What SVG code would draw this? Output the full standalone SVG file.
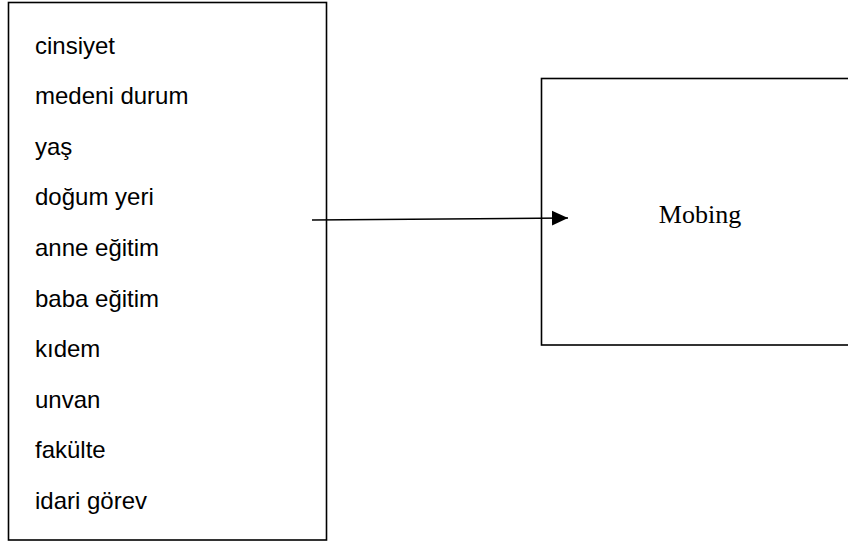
<svg xmlns="http://www.w3.org/2000/svg" width="848" height="542" viewBox="0 0 848 542">
<style>
.box{fill:#fff;stroke:#000;stroke-width:1.6}
.lbl{font-family:"Liberation Sans",Arial,sans-serif;font-size:24px;fill:#000}
.ser{font-family:"Liberation Serif","Times New Roman",serif;font-size:26px;fill:#000}
.conn{stroke:#000;stroke-width:1.6;fill:none}
</style>
<defs>
<marker id="ah" markerWidth="17" markerHeight="16" refX="16" refY="8" orient="auto" markerUnits="userSpaceOnUse">
<path d="M0,0.5 L16,8 L0,15.5 Z" fill="#000"/>
</marker>
</defs>
<rect width="848" height="542" fill="#fff"/>
<g id="factors">
<rect class="box" x="8.5" y="2.5" width="318" height="537.5"/>
<text class="lbl" x="35" y="54">cinsiyet</text>
<text class="lbl" x="35" y="104">medeni durum</text>
<text class="lbl" x="35" y="155">yaş</text>
<text class="lbl" x="35" y="205">doğum yeri</text>
<text class="lbl" x="35" y="256">anne eğitim</text>
<text class="lbl" x="35" y="307">baba eğitim</text>
<text class="lbl" x="35" y="357">kıdem</text>
<text class="lbl" x="35" y="408">unvan</text>
<text class="lbl" x="35" y="458">fakülte</text>
<text class="lbl" x="35" y="509">idari görev</text>
</g>
<g id="mobing">
<rect class="box" x="541.5" y="78.5" width="320" height="266.5"/>
<text class="ser" x="700" y="223" text-anchor="middle">Mobing</text>
</g>
<g id="connectors">
<line class="conn" x1="312" y1="220" x2="568" y2="218" marker-end="url(#ah)"/>
</g>
</svg>
